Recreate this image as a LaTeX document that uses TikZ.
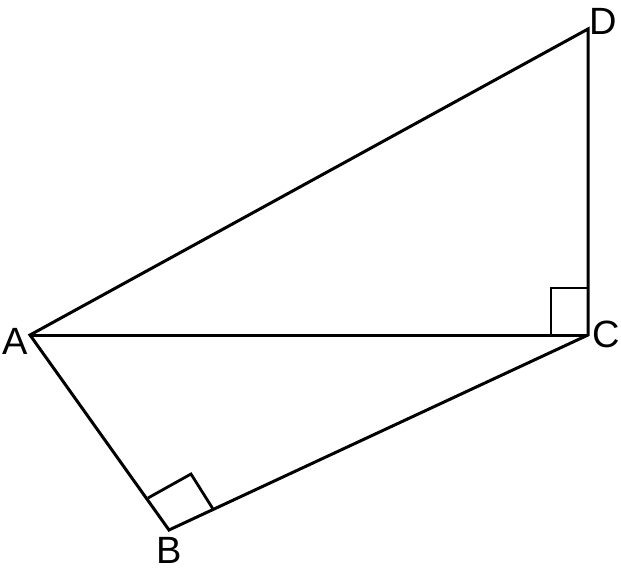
\documentclass[tikz,border=0pt]{standalone}
\usepackage{fontspec}
\setmainfont{Liberation Sans}
\begin{document}
\begin{tikzpicture}[x=1pt,y=-1pt,
  edge/.style={line width=3pt,line join=miter},
  anglemark/.style={line width=2.8pt},
  lab/.style={font=\fontsize{38}{40}\selectfont,inner sep=0pt}]
\useasboundingbox (0,0) rectangle (621,569);
\coordinate (A) at (30,335);
\coordinate (B) at (169,530);
\coordinate (C) at (588,335);
\coordinate (D) at (588,29);
\draw[edge] (A) -- (D) -- (C) -- (B) -- cycle;
\draw[edge] (A) -- (C);
% right angle marks
\coordinate (c1) at (551,335);
\coordinate (c2) at (551,288);
\coordinate (c3) at (588,288);
\draw[anglemark] (c1) -- (c2) -- (c3);
\coordinate (b1) at (148,498);
\coordinate (b2) at (191,474);
\coordinate (b3) at (213,509);
\draw[anglemark] (b1) -- (b2) -- (b3);
\node[lab] (la) at (15,341) {A};
\node[lab] (lb) at (169,550) {B};
\node[lab] (lc) at (606,334) {C};
\node[lab] (ld) at (603,21) {D};
\end{tikzpicture}
\end{document}
